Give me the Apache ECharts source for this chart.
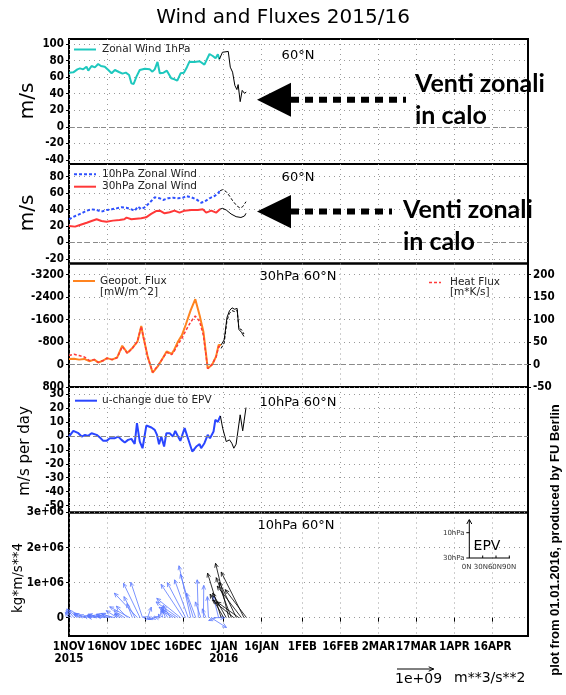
<!DOCTYPE html>
<html><head><meta charset="utf-8">
<script src="https://cdn.jsdelivr.net/npm/echarts@6/dist/echarts.min.js"></script>
<style>html,body{margin:0;padding:0;background:#fff;}#c{width:566px;height:695px;}</style>
</head><body><div id="c"></div>
<script>
// ---------------- data (x = days since 1 Nov 2015) ----------------
const tickDays = [0,15,30,45,61,76,92,107,122,137,152,167];
const tickLabels = ['1NOV\n2015','16NOV','1DEC','16DEC','1JAN\n2016','16JAN','1FEB','16FEB','2MAR','17MAR','1APR','16APR'];

// Panel 1: zonal wind 1 hPa (m/s)
const u1Days = [0,1.7,3.3,4.3,5.6,6.9,7.6,8.9,10.2,11.5,12.6,14.1,15.5,16.8,18.1,19.7,21.1,22.4,23.7,24.6,25.5,26.6,27.9,29.9,31.8,32.9,33.8,34.9,35.8,37.3,38.6,40.3,41.6,42.7,44,45.3,46.5,47.5,49.5,51.5,53.4,55.4,56.7,57.8,58.7,59.3];
const u1Vals = [65.4,65.8,69.4,70.6,69.4,72.6,67.8,73.4,71.8,75.9,73.4,72.6,68.6,64.6,68.6,66.2,64.2,65.4,62.6,52.5,51.7,60.6,68.6,70.2,69.4,66.6,69.4,78.3,64.6,65.4,67.8,58.6,57.4,55.7,64.6,65.4,72,78.7,78.3,79.1,75.1,87.9,85.5,82.7,87.5,81.5];
const u1FcDays = [59.3,60.5,61.2,62.8,63.6,64.5,65.4,66.2,66.7,67.5,68.3,69.2,69.9];
const u1FcVals = [81.5,90,91.5,91,72,66,50,45,51,30.4,44,40.5,42];

// Panel 2: zonal wind 10 hPa and 30 hPa (m/s)
const u10Days = [0,2.4,5,7,8.9,10.9,12.8,14.8,16.8,18.7,20.7,22.6,24.6,25.9,27.2,28.5,29.8,31.8,33.8,35.8,37.1,39,41,43,45,46.2,48.2,50.2,52.1,53.4,55.4,57.4,58.7,59.6];
const u10Vals = [28.2,32.2,35.5,38.7,40.3,39.5,37.5,39.5,40.3,41.5,42.8,42.3,40.3,38.7,43.6,40.7,42.8,48.4,54.9,53.7,51.7,53.7,54.5,53.7,54.5,56.5,54.9,52.5,48.4,49.6,53.7,56.5,59.8,63];
const u10FcDays = [59.6,60.6,62,63.3,64.6,66.2,67.5,68.5,69.2,69.8];
const u10FcVals = [63,64.2,61.8,56.5,50.5,44.5,41.8,43.6,45.6,49.6];
const u30Days = [0,2.4,4.3,7,8.9,10.9,12.8,14.8,17.3,19.9,21.8,22.7,24.6,26.5,28.5,30.4,32.4,34.5,35.8,37.7,39.7,41.6,43.6,45.6,48.2,50.8,52.8,54.1,56.1,58,59.6];
const u30Vals = [20.1,19.3,21.3,24.1,26.1,28.2,26.1,25.3,26.6,27.4,28.2,30.2,28.2,29,29.4,30.6,34.7,38.3,38.7,35.5,36.7,38.7,36.3,38.7,39.5,39.5,40.3,36.3,38.7,36.3,40.7];
const u30FcDays = [59.6,60.6,62,63.9,65.9,67.8,69.2,69.8];
const u30FcVals = [40.7,41.5,39.5,34.7,31.4,30.4,32.2,35.5];

// Panel 3: 30 hPa geopotential flux (mW/m^2) and heat flux (m*K/s)
const fluxDays = [0,2,4,6,8,10,11.5,13.5,15,17,19,21,23,25,27,28.5,29.3,31,33,35,37,38.5,40.5,41.5,43,44.5,46,48,49.8,51.5,53,54.7,56.5,58,59,60];
const geoVals = [-200,-210,-175,-200,-120,-175,-70,-145,-230,-175,-255,-670,-415,-590,-820,-1375,-1000,-290,290,65,-235,-465,-380,-530,-820,-1040,-1410,-1940,-2330,-1760,-1170,140,0,-290,-700,-700];
const heatVals = [20,23,20,17,9,11,5,9,14,11,15,40,25,36,52,85,62,17,-17,-3,14,27,22,30,45,58,75,95,108,96,65,-9,1,17,40,38];
const fluxFcDays = [60,61.2,62.3,63.3,64.3,65.3,66.3,67,68,69];
const geoFcVals = [-700,-880,-1680,-1920,-2020,-1970,-2000,-1250,-1150,-1000];
const heatFcVals = [36,48,98,114,120,118,121,80,78,68];

// Panel 4: u-change due to EPV (m/s per day)
const duDays = [0,1.7,3.7,5,6.3,7.6,8.9,10.9,12.2,13.5,14.8,16.1,18.1,19.4,20.7,22,23.3,24.6,25.9,26.8,27.9,29,30.5,32.5,33.8,34.7,35.5,36.4,37.5,38.4,39.7,41,41.9,43,43.9,45.6,46.9,48.6,50.2,51.5,52.1,53.4,54.7,55.6,57,57.7,58.7,59.7];
const duVals = [-0.4,3.7,2,-0.4,0.8,0.1,2,0.8,-1.1,-3.5,-3.5,-1.6,-1.6,-0.4,-2.8,-4.7,-2.8,-2.1,-5.7,9.2,-4,-8.8,7.5,6.1,4.4,0.8,-5.9,-0.4,-7.6,2,2,-0.4,3.7,-0.4,-3.5,5.6,-1.6,-11.2,-7.6,-5.9,-8.8,-5.2,0.8,-1.6,3.2,11.6,10.1,14.4];
const duFcDays = [59.7,60.6,62,63.3,64.2,65,65.9,66.6,67.5,68.5,69.8];
const duFcVals = [14.4,5.6,-4,-2.8,-5.2,-8.8,-5.9,-4.5,15.2,3.7,20.4];

// Panel 5: EP flux vectors at 10 hPa: horizontal comp (1e9 m**3/s**2), vertical comp (kg*m/s**4)
const epvDays = [0,1,2,3,4,5,6,7,8,9,10,11,12,13,14,15,16,17,18,19,20,21,22,23,24,25,26,27,28,29,30,31,32,33,34,35,36,37,38,39,40,41,42,43,44,45,46,47,48,49,50,51,52,53,54,55,56,57,58,59];
const epvFy = [-0.1,-0.15,-0.2,-0.2,-0.15,-0.2,-0.25,-0.2,-0.15,-0.1,-0.2,-0.25,-0.3,-0.25,-0.2,-0.3,-0.35,-0.3,-0.35,-0.3,-0.15,-0.2,-0.3,-0.3,-0.55,-0.15,-0.3,-0.63,-0.45,-0.32,-0.05,0.1,-0.1,-0.12,-0.1,-0.08,-0.05,-0.05,-0.1,-0.15,-0.2,-0.3,-0.45,-0.6,-0.65,-0.6,-0.5,-0.37,-0.32,-0.35,-0.25,-0.03,-0.15,0.01,-0.1,-0.03,0.42,0.3,-0.2,-0.15];
const epvFz = [0.15e6,0.2e6,0.25e6,0.22e6,0.15e6,0.1e6,0.12e6,0.08e6,0.05e6,0.03e6,0.05e6,0.08e6,0.1e6,0.06e6,0.04e6,0.08e6,0.1e6,0.12e6,0.1e6,0.2e6,0.1e6,0.12e6,0.2e6,0.33e6,0.31e6,0.4e6,0.6e6,0.7e6,0.98e6,1.01e6,0.02e6,0.3e6,-0.04e6,-0.05e6,-0.03e6,0.02e6,0.1e6,0.2e6,0.3e6,0.25e6,0.35e6,0.2e6,0.3e6,0.45e6,0.55e6,0.95e6,1.0e6,1.08e6,1.48e6,1.24e6,0.7e6,1.08e6,0.45e6,0.92e6,0.25e6,0.6e6,-0.28e6,0.0,-0.08e6,0.62e6];
const epvFcDays = [60,61,62,63,64,65,66,67,68,69,70];
const epvFcFy = [-0.37,-0.37,-0.37,-0.36,-0.41,-0.58,-0.46,-0.6,-0.66,-0.62,-0.58];
const epvFcFz = [1.27e6,0.67e6,0.7e6,1.55e6,1.14e6,0.5e6,1.01e6,0.45e6,0.9e6,1.3e6,0.8e6];

// ---------------- layout / style ----------------
const L = 69, R = 38;
const panels = [
  {top:39, h:125}, {top:164, h:99.5}, {top:263.5, h:123.5}, {top:387, h:125.5}, {top:512.5, h:123.5}
];
const REF_PX = 36.7; // pixel length of the 1e+09 reference vector
const LBLFONT = "'DejaVu Sans Condensed','Liberation Sans Narrow','Liberation Sans',sans-serif";
const TXTFONT = "'DejaVu Sans',sans-serif";
const zip = (a,b) => a.map((x,i)=>[x,b[i]]);

const lblStyle = {fontFamily:LBLFONT, fontWeight:'bold', fontSize:11.5, color:'#000'};
const dotted = {show:true, lineStyle:{type:[1,4], color:'#9a9a9a', width:1}};

function yAx(grid, min, max, ticks, extra){
  return Object.assign({
    type:'value', gridIndex:grid, min:min, max:max,
    axisLine:{show:false},
    axisTick:{show:true, customValues:ticks, length:3, lineStyle:{color:'#000'}},
    axisLabel:Object.assign({customValues:ticks, margin:5, formatter:v=>String(v)}, lblStyle),
    splitLine:dotted
  }, extra||{});
}
const xAxes = panels.map((p,i)=>({
  type:'value', gridIndex:i, min:0, max:181,
  axisLine:{show:false},
  axisTick:{show:i===4, customValues:tickDays, length:4, lineStyle:{color:'#000'}},
  axisLabel:Object.assign({show:i===4, customValues:tickDays, margin:5, lineHeight:12, hideOverlap:false,
    formatter:v=>{const k=tickDays.indexOf(v);return k<0?'':tickLabels[k];}}, lblStyle, {fontSize:11.5}),
  splitLine:dotted
}));
const yAxes = [
  yAx(0,-44.8,106,[-40,-20,0,20,40,60,80,100]),
  yAx(1,-25.5,95.4,[-20,0,20,40,60,80]),
  yAx(2,-3600,800,[-3200,-2400,-1600,-800,0,800],{inverse:true}),
  yAx(2,-50,225,[-50,0,50,100,150,200],{position:'right',splitLine:{show:false}}),
  yAx(3,-55,35.2,[-50,-40,-30,-20,-10,0,10,20,30]),
  yAx(4,-523000,3000000,[0,1000000,2000000,3000000],{axisLabel:Object.assign({customValues:[0,1000000,2000000,3000000],margin:5,formatter:v=>v===0?'0':(v/1e6)+'e+06'},lblStyle)})
];

function zeroLine(){ return {silent:true, symbol:['none','none'], label:{show:false},
  lineStyle:{type:[5,3], color:'#8a8a8a', width:1}, data:[{yAxis:0}]}; }

function lineS(x, y, xi, yi, color, width, type, mark){
  const s = {type:'line', xAxisIndex:xi, yAxisIndex:yi, data:zip(x,y), showSymbol:false,
    lineStyle:{color:color, width:width, type:type||'solid'}, itemStyle:{color:color}, z:3, animation:false};
  if (mark) s.markLine = zeroLine();
  return s;
}
function arrowRender(color){
  return function(params, api){
    const d = api.value(0), fy = api.value(1), fz = api.value(2);
    const t = api.coord([d, 0]);
    const hy = api.coord([d, fz])[1];
    const hx = t[0] + fy*REF_PX;
    const ang = Math.atan2(hy - t[1], hx - t[0]);
    const a = 4.5, s = 0.42;
    const p1 = [hx - a*Math.cos(ang - s), hy - a*Math.sin(ang - s)];
    const p2 = [hx - a*Math.cos(ang + s), hy - a*Math.sin(ang + s)];
    return {type:'group', children:[
      {type:'line', shape:{x1:t[0],y1:t[1],x2:hx,y2:hy}, style:{stroke:color, lineWidth:0.8}},
      {type:'polyline', shape:{points:[p1,[hx,hy],p2]}, style:{stroke:color, fill:null, lineWidth:0.8}}
    ]};
  };
}
function arrowS(days, fy, fz, color){
  return {type:'custom', xAxisIndex:4, yAxisIndex:5, clip:false, animation:false,
    data:days.map((d,i)=>[d, fy[i], fz[i]]), encode:{x:0, y:2}, renderItem:arrowRender(color), z:3};
}

const series = [
  lineS(u1Days,u1Vals,0,0,'#1ec8be',2,'solid',true),
  lineS(u1FcDays,u1FcVals,0,0,'#000',1),
  lineS(u10Days,u10Vals,1,1,'#2d50ff',2,[3,2],true),
  lineS(u10FcDays,u10FcVals,1,1,'#000',1,[3,2]),
  lineS(u30Days,u30Vals,1,1,'#ff3838',2),
  lineS(u30FcDays,u30FcVals,1,1,'#000',1),
  lineS(fluxDays,geoVals,2,2,'#ff8420',2,'solid',true),
  lineS(fluxDays,heatVals,2,3,'#ff3a3a',1.5,[3,2]),
  lineS(fluxFcDays,geoFcVals,2,2,'#000',1),
  lineS(fluxFcDays,heatFcVals,2,3,'#000',1,[3,2]),
  lineS(duDays,duVals,3,4,'#2a46ff',2,'solid',true),
  lineS(duFcDays,duFcVals,3,4,'#000',1),
  arrowS(epvDays,epvFy,epvFz,'#5a78ff'),
  arrowS(epvFcDays,epvFcFy,epvFcFz,'#000')
];

function txt(x,y,text,size,opt){
  return Object.assign({type:'text', x:x, y:y, z:10, style:Object.assign({text:text, fontSize:size, fontFamily:TXTFONT,
    fill:'#000', align:'left', verticalAlign:'middle'}, (opt&&opt.style)||{})}, (opt&&opt.el)||{});
}
function seg(x1,y1,x2,y2,color,w,dash){
  return {type:'line', z:10, shape:{x1:x1,y1:y1,x2:x2,y2:y2}, style:{stroke:color, lineWidth:w, lineDash:dash||null}};
}
const C = {style:{align:'center'}};
const V = (extra)=>({style:Object.assign({align:'center'}, extra||{}), el:{rotation:Math.PI/2}});
const G = {style:{fill:'#222'}};
const BIG = {style:{fontFamily:"Lato,'Open Sans',sans-serif",fontWeight:'bold'}};
const graphic = [
  txt(283,18,'Wind and Fluxes 2015/16',20,C),
  // panel titles
  txt(298,56,'60°N',13,C), txt(298,178,'60°N',13,C), txt(298,277,'30hPa 60°N',13,C),
  txt(298,403,'10hPa 60°N',13,C), txt(296,526,'10hPa 60°N',13,C),
  // legends
  seg(74,49.5,96,49.5,'#1ec8be',2), txt(102,49.5,'Zonal Wind 1hPa',10.5,G),
  seg(74,174.3,96,174.3,'#2d50ff',2,[3,2]), txt(102,174.3,'10hPa Zonal Wind',10.5,G),
  seg(74,186.7,96,186.7,'#ff3838',2), txt(102,186.7,'30hPa Zonal Wind',10.5,G),
  seg(73,281,95,281,'#ff8420',2), txt(100,281,'Geopot. Flux',10.5,G), txt(100,292.5,'[mW/m^2]',10.5,G),
  seg(429,282.5,441,282.5,'#ff3a3a',1.5,[3,2]), txt(450,282,'Heat Flux',10.5,G), txt(450,292.5,'[m*K/s]',10.5,G),
  seg(75,400.7,97,400.7,'#2a46ff',2), txt(102,400.7,'u-change due to EPV',10.5,G),
  // axis names
  txt(28,101,'m/s',20,V()),
  txt(28,213,'m/s',20,V()),
  txt(25,451,'m/s per day',15,V()),
  txt(18,578,'kg*m/s**4',13.5,V()),
  // footnote
  txt(555,540,'plot from 01.01.2016, produced by FU Berlin',13,V({fontWeight:'bold',fontFamily:"'Liberation Sans',sans-serif"})),
  // reference vector
  seg(397,669,433.7,669,'#000',1),
  {type:'polyline', z:10, shape:{points:[[428.7,666.8],[433.7,669],[428.7,671.2]]}, style:{stroke:'#000', fill:null, lineWidth:1}},
  txt(395,679,'1e+09',14), txt(454,678,'m**3/s**2',14),
  // EPV inset
  seg(469.3,558,469.3,520,'#000',1),
  {type:'polyline', z:10, shape:{points:[[466.8,524],[469.3,519.5],[471.8,524]]}, style:{stroke:'#000', fill:null, lineWidth:1}},
  seg(466.3,532.7,469.3,532.7,'#000',1),
  seg(466.3,558,510,558,'#000',1),
  seg(482.7,558,482.7,555.5,'#000',1), seg(496,558,496,555.5,'#000',1), seg(509.3,558,509.3,555.5,'#000',1),
  txt(464.5,532.7,'10hPa',7,{style:{align:'right',fill:'#333'}}),
  txt(464.5,558,'30hPa',7,{style:{align:'right',fill:'#333'}}),
  txt(489,567,'0N 30N60N90N',7,{style:{align:'center',fill:'#333'}}),
  txt(487,546.5,'EPV',14,C),
  // annotations
  {type:'polygon', z:10, shape:{points:[[257,99.7],[291,82.7],[291,116.7]]}, style:{fill:'#000'}},
  seg(291,99.7,406,99.7,'#000',6,[8,6]),
  {type:'polygon', z:10, shape:{points:[[257,211.5],[291,195],[291,228.3]]}, style:{fill:'#000'}},
  seg(291,211.5,392,211.5,'#000',6,[8,6]),
  txt(415,84,'Venti zonali',25,BIG),
  txt(415,116,'in calo',25,BIG),
  txt(403,210,'Venti zonali',25,BIG),
  txt(403,242,'in calo',25,BIG)
];

const chart = echarts.init(document.getElementById('c'), null, {renderer:'canvas'});
chart.setOption({
  animation:false,
  backgroundColor:'#fff',
  grid: panels.map(p=>({left:L, right:R, top:p.top, height:p.h, show:true, borderColor:'#000', borderWidth:2, backgroundColor:'transparent'})),
  xAxis: xAxes,
  yAxis: yAxes,
  series: series,
  graphic: graphic
});
</script></body></html>
